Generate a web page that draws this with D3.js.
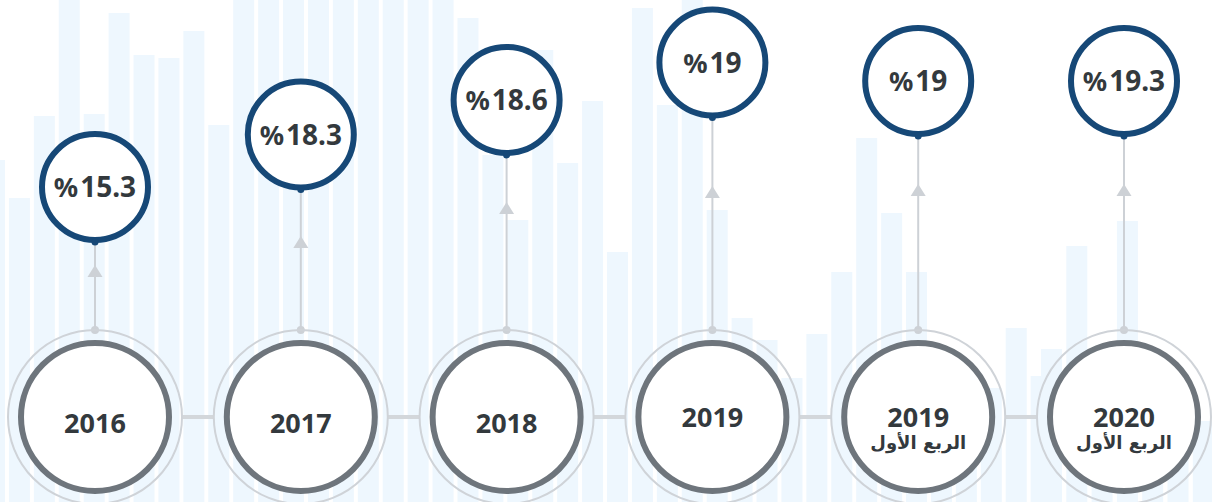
<!DOCTYPE html>
<html>
<head>
<meta charset="utf-8">
<script src="https://cdn.jsdelivr.net/npm/d3@7"></script>
<style>
  body { margin: 0; background: #fff; }
  svg { display: block; }
</style>
</head>
<body>
<svg></svg>
<script>
var width = 1212;
var height = 502;

// timeline data
var years = ["2016", "2017", "2018", "2019", "2019", "2020"];
var subLabels = ["", "", "", "", "الربع الأول", "الربع الأول"];
var values = [15.3, 18.3, 18.6, 19, 19, 19.3];

// decorative background bars (height of each bar, two layers)
var bgBarsA = [342, 304, 386, 502, 388, 489, 447, 444, 471, 377,
               502, 502, 502, 502, 502, 502, 502, 502, 502, 484,
               347, 282, 452, 339, 401, 250, 494, 397, 502, 292,
               184, 162, 124, 168, 230, 364, 289, 230, 112, 104,
               114, 174, 126];
var bgBarsB = [153, 256, 140, 281, 62, 72, 81];

var ringY = 417;

var svg = d3.select("svg")
    .attr("width", width)
    .attr("height", height);

// background bars
var bgY = d3.scaleLinear().domain([0, height]).range([height, 0]);
var bgXA = d3.scaleLinear().domain([0, 1]).range([-16, 8.92]);
var bgXB = d3.scaleLinear().domain([0, 1]).range([1041, 1066.3]);

svg.append("g").selectAll("rect")
    .data(bgBarsA)
    .enter()
    .append("rect")
        .attr("x", (d, i) => bgXA(i))
        .attr("y", d => bgY(d))
        .attr("width", 21)
        .attr("height", d => height - bgY(d))
        .attr("fill", "#eef7fe");

svg.append("g").selectAll("rect")
    .data(bgBarsB)
    .enter()
    .append("rect")
        .attr("x", (d, i) => bgXB(i))
        .attr("y", d => bgY(d))
        .attr("width", 21)
        .attr("height", d => height - bgY(d))
        .attr("fill", "#eef7fe");

var idx = d3.range(values.length);

var xScale = d3.scalePoint()
    .domain(idx)
    .range([95, 1124]);

// staggered bubble heights
var bubbleY = d3.scaleOrdinal()
    .domain(idx)
    .range([187, 134.5, 100, 62.5, 81, 81]);

var arrowY = d3.scaleOrdinal()
    .domain(idx)
    .range([271, 242, 208, 192, 190, 190]);

var outerR = 87, ringR = 74, bubbleR = 53;

// connectors between rings
svg.append("g").selectAll("line")
    .data(idx.slice(0, -1))
    .enter()
    .append("line")
        .attr("x1", i => xScale(i) + outerR)
        .attr("x2", i => xScale(i + 1) - outerR)
        .attr("y1", ringY)
        .attr("y2", ringY)
        .attr("stroke", "#d3d7db")
        .attr("stroke-width", 4);

var g = svg.selectAll("g.item")
    .data(idx)
    .enter()
    .append("g")
        .attr("class", "item")
        .attr("transform", i => "translate(" + xScale(i) + ",0)");

// stem
g.append("line")
    .attr("x1", 0).attr("x2", 0)
    .attr("y1", i => bubbleY(i) + bubbleR)
    .attr("y2", ringY - outerR)
    .attr("stroke", "#cdd1d6")
    .attr("stroke-width", 2);

// arrow head
g.append("path")
    .attr("d", i => {
        var y = arrowY(i);
        return "M0," + (y - 6) + "L7.5," + (y + 6) + "L-7.5," + (y + 6) + "Z";
    })
    .attr("fill", "#cdd1d6");

// dot on outer ring
g.append("circle")
    .attr("cy", ringY - outerR)
    .attr("r", 4)
    .attr("fill", "#cdd1d6");

// outer thin ring
g.append("circle")
    .attr("cy", ringY)
    .attr("r", outerR)
    .attr("fill", "none")
    .attr("stroke", "#cfd3d8")
    .attr("stroke-width", 2);

// thick ring
g.append("circle")
    .attr("cy", ringY)
    .attr("r", ringR)
    .attr("fill", "#fff")
    .attr("stroke", "#6e757c")
    .attr("stroke-width", 6);

// year label
g.append("text")
    .attr("y", i => (subLabels[i] || years[i] === "2019") ? 427 : 433)
    .attr("text-anchor", "middle")
    .style("font-family", "'Noto Sans', 'DejaVu Sans', sans-serif")
    .style("font-weight", "bold")
    .style("font-size", "27px")
    .style("fill", "#33393d")
    .text(i => years[i]);

g.filter(i => subLabels[i])
    .append("text")
    .attr("y", 449)
    .attr("text-anchor", "middle")
    .attr("direction", "rtl")
    .style("font-family", "'DejaVu Sans', sans-serif")
    .style("font-weight", "bold")
    .style("font-size", "18px")
    .style("fill", "#33393d")
    .text(i => subLabels[i]);

// value bubble
g.append("circle")
    .attr("cy", i => bubbleY(i))
    .attr("r", bubbleR)
    .attr("fill", "#fff")
    .attr("stroke", "#164877")
    .attr("stroke-width", 6);

g.append("circle")
    .attr("cy", i => bubbleY(i) + bubbleR + 2)
    .attr("r", 3.5)
    .attr("fill", "#164877");

var vt = g.append("text")
    .attr("y", i => bubbleY(i) + 10)
    .attr("text-anchor", "middle")
    .attr("direction", "ltr")
    .style("font-family", "'Noto Sans', 'DejaVu Sans', sans-serif")
    .style("font-weight", "bold")
    .style("fill", "#33393d");

vt.append("tspan")
    .style("font-size", "27px")
    .text("%");

vt.append("tspan")
    .attr("dx", 2)
    .style("font-size", "28px")
    .text(i => values[i]);
</script>
</body>
</html>
